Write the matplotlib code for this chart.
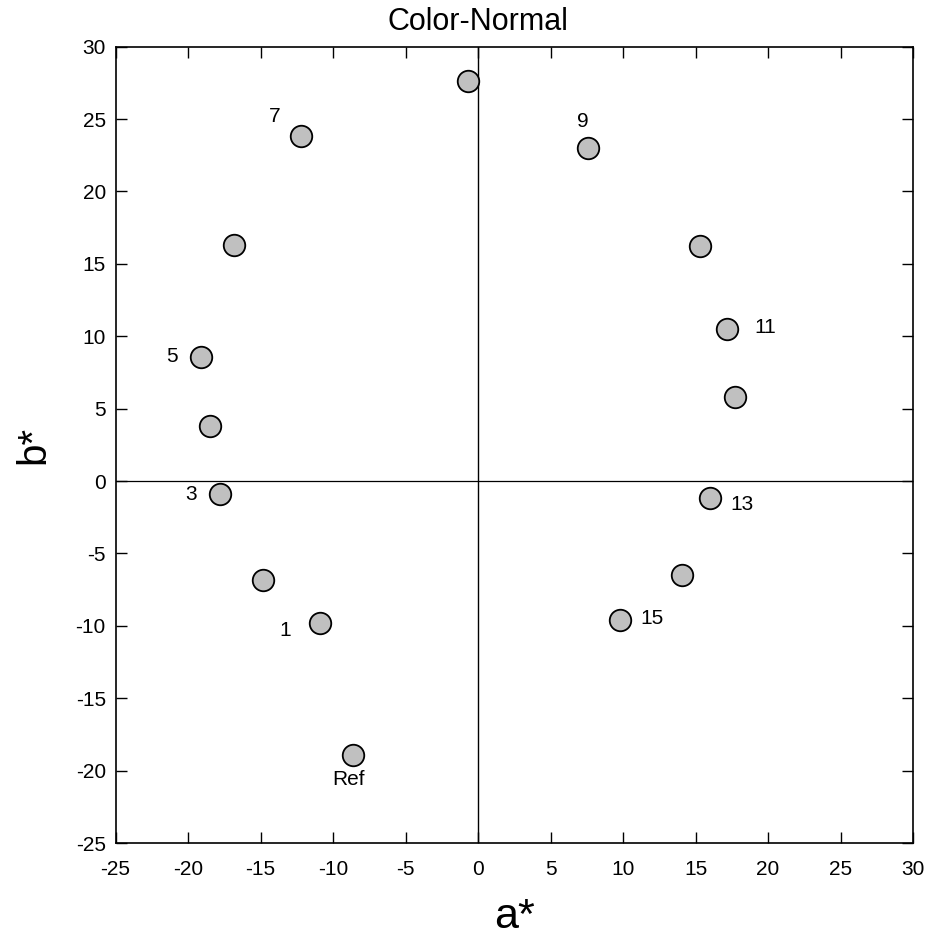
import matplotlib
matplotlib.use("Agg")
import matplotlib.pyplot as plt
import matplotlib.transforms as mtransforms

plt.rcParams['font.family'] = ['Liberation Sans', 'DejaVu Sans']
plt.rcParams['axes.unicode_minus'] = False

# a*, b* values of the color samples
a_vals = [-0.7, -12.2, 7.6, -16.8, 15.3, -19.1, 17.2, -18.5, 17.7, -17.8, 16.0, -14.8, 14.1, -10.9, 9.8, -8.6]
b_vals = [27.6, 23.8, 23.0, 16.3, 16.2, 8.6, 10.5, 3.8, 5.8, -0.9, -1.2, -6.8, -6.5, -9.8, -9.6, -18.9]

# labels: (text, a, b)
label_text = ['7', '9', '5', '11', '3', '13', '1', '15', 'Ref']
label_a = [-14.0, 7.2, -21.1, 19.8, -19.8, 18.2, -13.3, 12.0, -8.9]
label_b = [25.2, 24.8, 8.6, 10.6, -0.9, -1.6, -10.3, -9.5, -20.6]

fig = plt.figure(figsize=(9.27, 9.41), dpi=100)
ax = fig.add_axes([0.1246, 0.1041, 0.8603, 0.8463])

ax.axhline(0, color='black', lw=0.9, zorder=1)
ax.axvline(0, color='black', lw=1.0, zorder=1)

ax.plot(a_vals, b_vals, 'o', ms=15.5, mfc='#c0c0c0', mec='black', mew=1.3, zorder=3)

for t, x, y in zip(label_text, label_a, label_b):
    ax.text(x, y, t, fontsize=15, ha='center', va='center')

ax.set_xlim(-25, 30)
ax.set_ylim(-25, 30)
ax.set_xticks(range(-25, 31, 5))
ax.set_yticks(range(-25, 31, 5))
ax.tick_params(direction='in', length=8, width=1, top=True, right=True, labelsize=15)
ax.tick_params(axis='x', pad=12)
ax.tick_params(axis='y', pad=7)
for s in ax.spines.values():
    s.set_linewidth(1.2)

# title sits centred over a* = 0
trans = mtransforms.blended_transform_factory(ax.transData, ax.transAxes)
ax.text(0, 1.012, 'Color-Normal', fontsize=22, ha='center', va='bottom', transform=trans)
ax.set_xlabel('a*', fontsize=31, labelpad=13)
ax.set_ylabel('b*', fontsize=29, labelpad=17)

fig.savefig('out.png', dpi=100)
